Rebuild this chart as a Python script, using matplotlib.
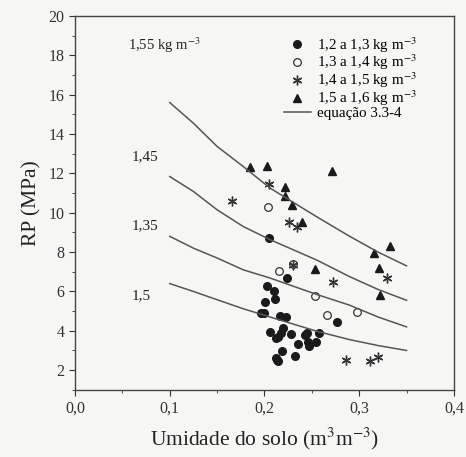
import matplotlib
matplotlib.use("Agg")
import matplotlib.pyplot as plt
from matplotlib.ticker import MultipleLocator

plt.rcParams['font.family'] = ['Liberation Serif', 'DejaVu Serif']
plt.rcParams['mathtext.fontset'] = 'stix'

# 1,2 a 1,3 kg m-3 (filled circles)
d1_x = [0.2045, 0.224, 0.2025, 0.210, 0.211, 0.2005, 0.196, 0.1995, 0.2165, 0.2225,
        0.2765, 0.206, 0.2195, 0.2175, 0.212, 0.2145, 0.228, 0.245, 0.243, 0.2575,
        0.2355, 0.246, 0.247, 0.2545, 0.2185, 0.232, 0.212, 0.2145, 0.213]
d1_y = [8.7, 6.7, 6.3, 6.0, 5.6, 5.45, 4.9, 4.9, 4.75, 4.7,
        4.45, 3.95, 4.15, 3.9, 3.65, 3.7, 3.85, 3.9, 3.8, 3.9,
        3.35, 3.45, 3.25, 3.45, 2.95, 2.7, 2.6, 2.45, 2.5]

# 1,3 a 1,4 (open circles)
d2_x = [0.204, 0.2155, 0.230, 0.253, 0.266, 0.2975]
d2_y = [10.3, 7.05, 7.4, 5.75, 4.8, 4.95]

# 1,4 a 1,5 (asterisks)
d3_x = [0.1655, 0.2045, 0.2255, 0.234, 0.23, 0.272, 0.329, 0.286, 0.311, 0.320]
d3_y = [10.6, 11.45, 9.55, 9.3, 7.35, 6.5, 6.7, 2.5, 2.45, 2.65]

# 1,5 a 1,6 (triangles)
d4_x = [0.185, 0.2025, 0.271, 0.2215, 0.2215, 0.229, 0.2395, 0.253, 0.3155, 0.3325, 0.321, 0.322]
d4_y = [12.3, 12.4, 12.1, 11.3, 10.85, 10.4, 9.55, 7.15, 7.95, 8.3, 7.2, 5.8]

# equação 3.3-4 curves
curve_x = [0.100, 0.125, 0.150, 0.1776, 0.206, 0.255, 0.290, 0.320, 0.350]
curve_155 = [15.6, 14.55, 13.37, 12.35, 11.25, 9.8, 8.8, 8.0, 7.3]
curve_145 = [11.84, 11.08, 10.15, 9.3, 8.63, 7.6, 6.75, 6.1, 5.55]
curve_135 = [8.8, 8.2, 7.7, 7.1, 6.68, 5.85, 5.3, 4.7, 4.2]
curve_15 = [6.4, 6.0, 5.58, 5.12, 4.7, 3.98, 3.55, 3.25, 3.0]

fig = plt.figure(figsize=(4.66, 4.57), dpi=100, facecolor='#f6f6f4')
ax = fig.add_axes([0.161, 0.147, 0.813, 0.818])
ax.set_facecolor('#f6f6f4')

ax.plot(d1_x, d1_y, 'o', color='#1a1a1a', ms=5.5, label=r'1,2 a 1,3 kg m$^{-3}$')
ax.plot(d2_x, d2_y, 'o', mfc='none', mec='#333333', mew=0.9, ms=5.5, label=r'1,3 a 1,4 kg m$^{-3}$')
ax.plot(d3_x, d3_y, ls='none', marker=(6, 2, 0), color='#333333', mew=1.0, ms=7, label=r'1,4 a 1,5 kg m$^{-3}$')
ax.plot(d4_x, d4_y, '^', color='#1a1a1a', ms=6, label=r'1,5 a 1,6 kg m$^{-3}$')
ax.plot(curve_x, curve_155, '-', color='#555555', lw=1.1, label='equação 3.3-4')
ax.plot(curve_x, curve_145, '-', color='#555555', lw=1.1)
ax.plot(curve_x, curve_135, '-', color='#555555', lw=1.1)
ax.plot(curve_x, curve_15, '-', color='#555555', lw=1.1)

ax.text(0.056, 18.5, r'1,55 kg m$^{-3}$', fontsize=10.5, va='center', color='#222222')
ax.text(0.060, 12.85, '1,45', fontsize=11, va='center', color='#222222')
ax.text(0.060, 9.35, '1,35', fontsize=11, va='center', color='#222222')
ax.text(0.060, 5.8, '1,5', fontsize=11, va='center', color='#222222')

ax.set_xlim(0, 0.4)
ax.set_ylim(1, 20)
ax.xaxis.set_major_locator(MultipleLocator(0.1))
ax.xaxis.set_minor_locator(MultipleLocator(0.05))
ax.yaxis.set_major_locator(MultipleLocator(2))
ax.yaxis.set_minor_locator(MultipleLocator(1))
ax.set_xticks([0, 0.1, 0.2, 0.3, 0.4])
ax.set_xticklabels(['0,0', '0,1', '0,2', '0,3', '0,4'])
ax.set_yticks([2, 4, 6, 8, 10, 12, 14, 16, 18, 20])
ax.tick_params(which='major', direction='out', length=4, labelsize=11.5, colors='#333333')
ax.tick_params(which='minor', direction='out', length=2, colors='#333333')
for s in ax.spines.values():
    s.set_color('#444444')
    s.set_linewidth(1.0)

ax.set_xlabel(r'Umidade do solo (m$^3$m$^{-3}$)', fontsize=15.5, color='#222222', labelpad=7)
ax.set_ylabel('RP (MPa)', fontsize=15.5, color='#222222', labelpad=5)

ax.legend(loc='upper left', bbox_to_anchor=(0.535, 0.965), frameon=False, fontsize=10.8,
          handlelength=1.8, handletextpad=0.4, labelspacing=-0.12, borderaxespad=0.0)

fig.savefig('out.png', dpi=100, facecolor=fig.get_facecolor())
